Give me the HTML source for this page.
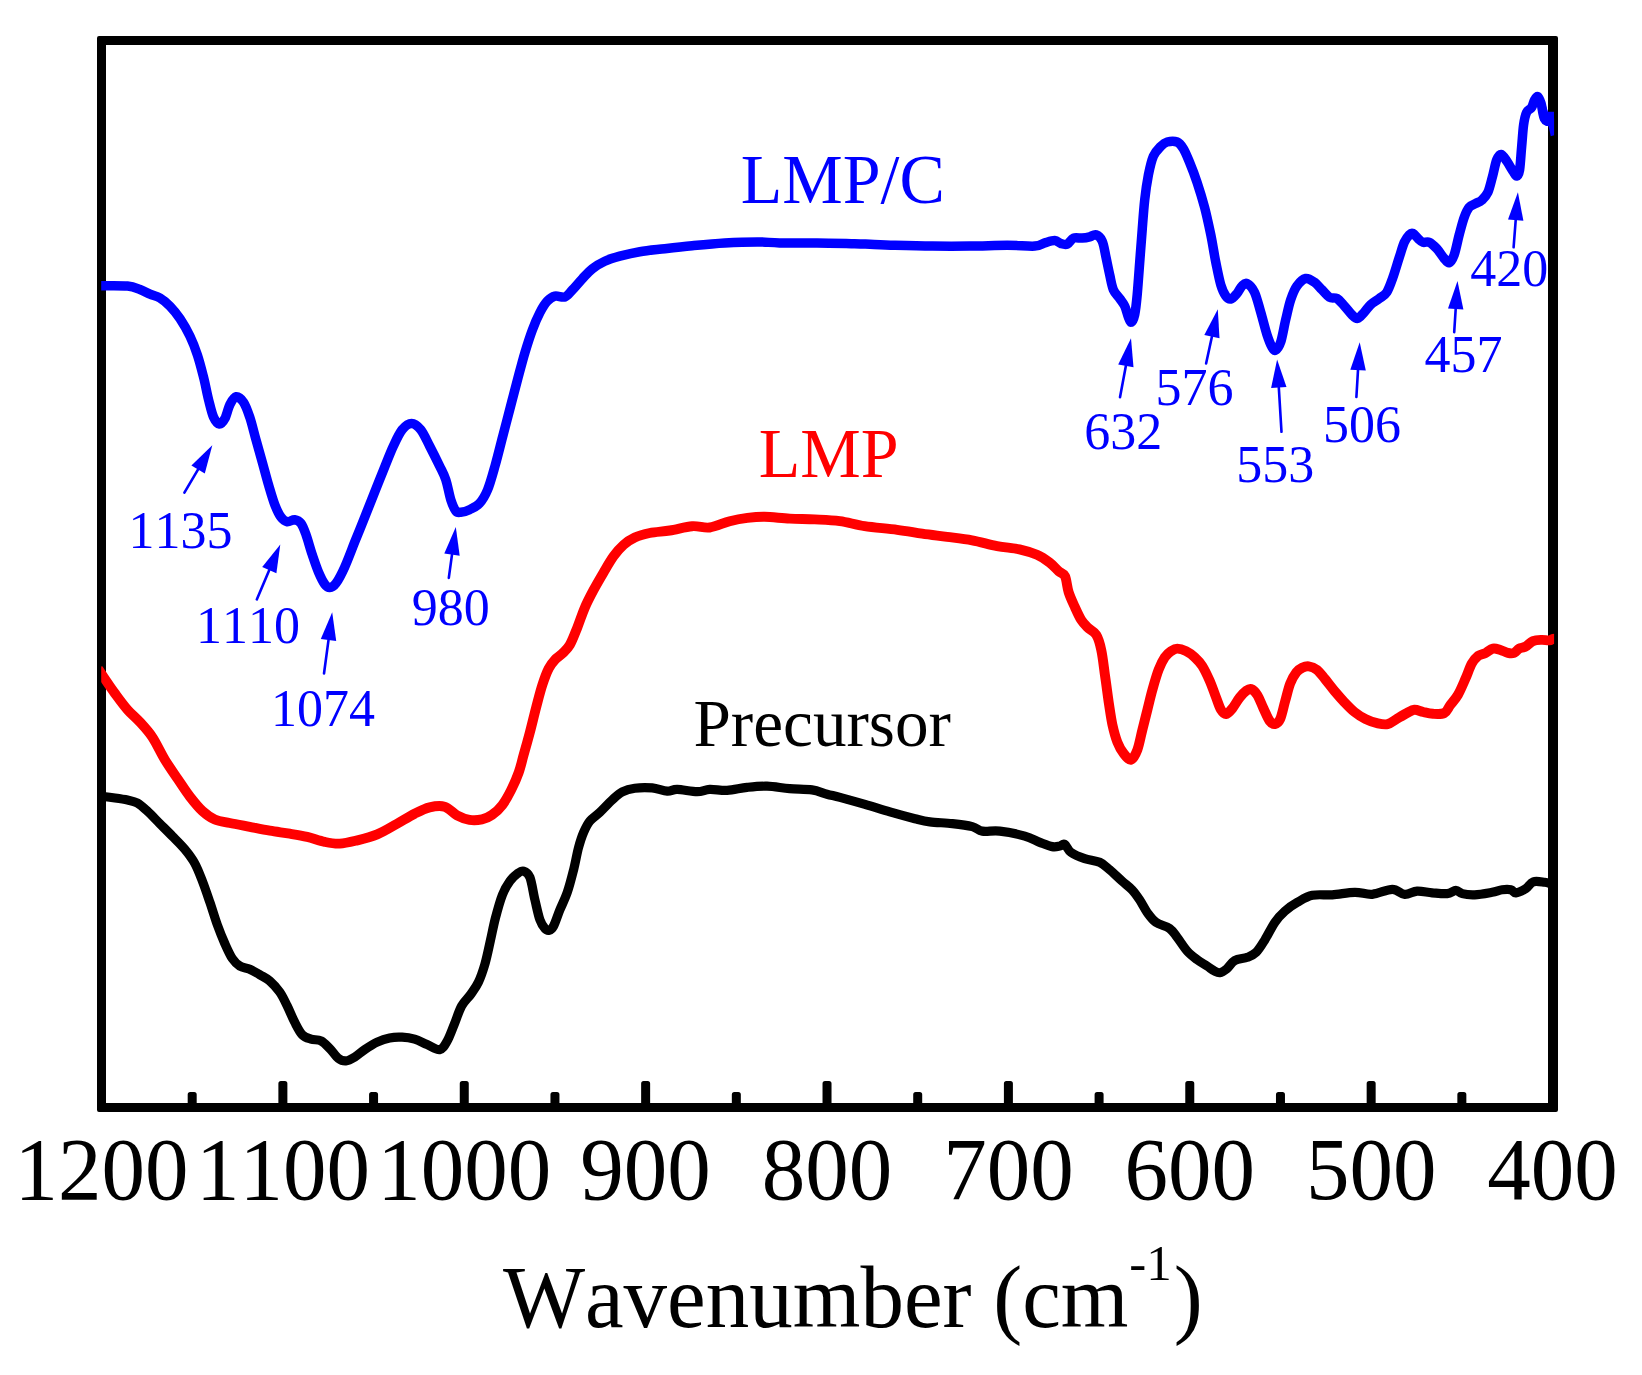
<!DOCTYPE html><html><head><meta charset="utf-8"><title>FTIR</title><style>html,body{margin:0;padding:0;background:#fff}svg{display:block}text{font-family:"Liberation Serif",serif;font-kerning:none}</style></head><body>
<svg width="1642" height="1375" viewBox="0 0 1642 1375">
<rect width="1642" height="1375" fill="#fff"/>
<text transform="translate(128.6,547.8) scale(1,1.02)" font-size="52" fill="#00f">1135</text>
<text transform="translate(196.0,643.2) scale(1,1.02)" font-size="52" fill="#00f">1110</text>
<text transform="translate(271.0,725.9) scale(1,1.02)" font-size="52" fill="#00f">1074</text>
<text transform="translate(411.8,625.3) scale(1,1.02)" font-size="52" fill="#00f">980</text>
<text transform="translate(1084.2,448.5) scale(1,1.02)" font-size="52" fill="#00f">632</text>
<text transform="translate(1155.5,404.9) scale(1,1.02)" font-size="52" fill="#00f">576</text>
<text transform="translate(1236.3,482.2) scale(1,1.02)" font-size="52" fill="#00f">553</text>
<text transform="translate(1322.9,442.3) scale(1,1.02)" font-size="52" fill="#00f">506</text>
<text transform="translate(1424.5,371.6) scale(1,1.02)" font-size="52" fill="#00f">457</text>
<text transform="translate(1470.2,285.5) scale(1,1.02)" font-size="52" fill="#00f">420</text>
<g><line x1="184.4" y1="492.7" x2="198.1" y2="469.4" stroke="#00f" stroke-width="2.6" stroke-linecap="round"/><polygon points="212.3,445.3 204.8,473.4 191.4,465.5" fill="#00f"/><line x1="256.8" y1="599.4" x2="269.3" y2="570.1" stroke="#00f" stroke-width="2.6" stroke-linecap="round"/><polygon points="280.3,544.4 276.4,573.2 262.2,567.1" fill="#00f"/><line x1="324.0" y1="673.5" x2="328.5" y2="640.1" stroke="#00f" stroke-width="2.6" stroke-linecap="round"/><polygon points="332.2,612.3 336.2,641.1 320.8,639.0" fill="#00f"/><line x1="448.8" y1="577.9" x2="452.0" y2="554.6" stroke="#00f" stroke-width="2.6" stroke-linecap="round"/><polygon points="455.8,526.9 459.7,555.7 444.3,553.6" fill="#00f"/><line x1="1120.0" y1="397.3" x2="1125.9" y2="365.8" stroke="#00f" stroke-width="2.6" stroke-linecap="round"/><polygon points="1131.0,338.3 1133.5,367.2 1118.2,364.4" fill="#00f"/><line x1="1206.1" y1="363.5" x2="1211.9" y2="336.7" stroke="#00f" stroke-width="2.6" stroke-linecap="round"/><polygon points="1217.8,309.3 1219.5,338.3 1204.3,335.0" fill="#00f"/><line x1="1281.5" y1="431.8" x2="1278.8" y2="387.4" stroke="#00f" stroke-width="2.6" stroke-linecap="round"/><polygon points="1277.1,359.5 1286.5,387.0 1271.1,387.9" fill="#00f"/><line x1="1356.4" y1="397.0" x2="1358.0" y2="370.1" stroke="#00f" stroke-width="2.6" stroke-linecap="round"/><polygon points="1359.7,342.2 1365.8,370.6 1350.3,369.7" fill="#00f"/><line x1="1454.2" y1="332.2" x2="1455.7" y2="308.9" stroke="#00f" stroke-width="2.6" stroke-linecap="round"/><polygon points="1457.5,281.0 1463.4,309.4 1448.0,308.4" fill="#00f"/><line x1="1513.6" y1="247.3" x2="1515.7" y2="220.2" stroke="#00f" stroke-width="2.6" stroke-linecap="round"/><polygon points="1517.9,192.3 1523.4,220.8 1508.0,219.6" fill="#00f"/></g>
<text transform="translate(740.8,202.8) scale(1,1.012)" font-size="68" fill="#00f">LMP/C</text>
<text transform="translate(758.8,477.0) scale(1,1.012)" font-size="68" fill="#f00">LMP</text>
<text transform="translate(693.5,745.9) scale(1,1.02)" font-size="67.2" fill="#000">Precursor</text>
<path fill="#000" fill-rule="evenodd" d="M99 36H1556Q1558 36 1558 38V1110Q1558 1112 1556 1112H99Q97 1112 97 1110V38Q97 36 99 36ZM106 45V1103H1548V45Z"/>
<path d="M187.69 1104V1094.5q0 -2.5 2.5 -2.5h4q2.5 0 2.5 2.5V1104ZM278.38 1104V1083.5q0 -2.5 2.5 -2.5h4q2.5 0 2.5 2.5V1104ZM369.07 1104V1094.5q0 -2.5 2.5 -2.5h4q2.5 0 2.5 2.5V1104ZM459.76 1104V1083.5q0 -2.5 2.5 -2.5h4q2.5 0 2.5 2.5V1104ZM550.45 1104V1094.5q0 -2.5 2.5 -2.5h4q2.5 0 2.5 2.5V1104ZM641.14 1104V1083.5q0 -2.5 2.5 -2.5h4q2.5 0 2.5 2.5V1104ZM731.83 1104V1094.5q0 -2.5 2.5 -2.5h4q2.5 0 2.5 2.5V1104ZM822.52 1104V1083.5q0 -2.5 2.5 -2.5h4q2.5 0 2.5 2.5V1104ZM913.21 1104V1094.5q0 -2.5 2.5 -2.5h4q2.5 0 2.5 2.5V1104ZM1003.90 1104V1083.5q0 -2.5 2.5 -2.5h4q2.5 0 2.5 2.5V1104ZM1094.59 1104V1094.5q0 -2.5 2.5 -2.5h4q2.5 0 2.5 2.5V1104ZM1185.28 1104V1083.5q0 -2.5 2.5 -2.5h4q2.5 0 2.5 2.5V1104ZM1275.97 1104V1094.5q0 -2.5 2.5 -2.5h4q2.5 0 2.5 2.5V1104ZM1366.66 1104V1083.5q0 -2.5 2.5 -2.5h4q2.5 0 2.5 2.5V1104ZM1457.35 1104V1094.5q0 -2.5 2.5 -2.5h4q2.5 0 2.5 2.5V1104Z" fill="#000"/>
<text transform="translate(101.5,1198.8) scale(1,1.03)" font-size="87" fill="#000" text-anchor="middle">1200</text>
<text transform="translate(282.9,1198.8) scale(1,1.03)" font-size="87" fill="#000" text-anchor="middle">1100</text>
<text transform="translate(464.3,1198.8) scale(1,1.03)" font-size="87" fill="#000" text-anchor="middle">1000</text>
<text transform="translate(645.6,1198.8) scale(1,1.03)" font-size="87" fill="#000" text-anchor="middle">900</text>
<text transform="translate(827.0,1198.8) scale(1,1.03)" font-size="87" fill="#000" text-anchor="middle">800</text>
<text transform="translate(1008.4,1198.8) scale(1,1.03)" font-size="87" fill="#000" text-anchor="middle">700</text>
<text transform="translate(1189.8,1198.8) scale(1,1.03)" font-size="87" fill="#000" text-anchor="middle">600</text>
<text transform="translate(1371.2,1198.8) scale(1,1.03)" font-size="87" fill="#000" text-anchor="middle">500</text>
<text transform="translate(1552.5,1198.8) scale(1,1.03)" font-size="87" fill="#000" text-anchor="middle">400</text>
<text transform="translate(502.9,1327) scale(1,1.012)" font-size="87" fill="#000">Wavenumber (cm<tspan font-size="51" dy="-46" dx="0.8">-1</tspan><tspan dy="46" dx="2">)</tspan></text>
<clipPath id="c"><rect x="101.2" y="0" width="1452.9" height="1375"/></clipPath>
<g clip-path="url(#c)" fill="none" stroke-width="9.5" stroke-linejoin="round" stroke-linecap="butt">
<path d="M98.0 795.8C98.5 795.9 98.4 795.8 101.2 796.2C104.0 796.6 110.6 797.4 115.0 798.0C119.4 798.6 123.8 799.2 127.5 800.0C131.2 800.8 134.1 801.1 137.4 803.0C140.7 804.9 143.7 807.8 147.4 811.2C151.2 814.7 155.7 819.5 159.9 823.7C164.1 827.9 168.2 831.9 172.4 836.2C176.6 840.5 181.2 844.8 184.9 849.4C188.7 854.0 192.0 858.3 194.9 863.6C197.8 868.9 199.9 874.7 202.4 881.1C204.9 887.5 207.4 895.0 209.9 902.3C212.4 909.6 214.8 917.9 217.3 924.8C219.8 931.7 222.3 937.9 224.8 943.5C227.3 949.1 229.8 954.8 232.3 958.5C234.8 962.2 236.9 964.2 239.8 966.0C242.7 967.8 246.5 967.8 249.8 969.2C253.1 970.7 256.5 972.7 259.8 974.7C263.1 976.7 266.5 978.1 269.8 981.0C273.1 983.9 276.9 988.1 279.8 992.2C282.7 996.4 284.7 1000.9 287.2 1005.9C289.7 1010.9 292.2 1017.4 294.7 1022.2C297.2 1027.0 299.5 1031.9 302.2 1034.7C304.9 1037.5 307.9 1038.1 311.0 1039.1C314.1 1040.1 317.9 1039.4 321.0 1040.9C324.1 1042.5 326.8 1045.5 329.7 1048.4C332.6 1051.3 335.7 1056.3 338.4 1058.4C341.1 1060.5 343.2 1061.1 345.9 1060.9C348.6 1060.7 351.6 1059.0 354.7 1057.1C357.8 1055.2 360.9 1052.1 364.7 1049.6C368.4 1047.1 373.0 1044.0 377.2 1042.1C381.4 1040.1 385.5 1038.7 389.6 1037.9C393.8 1037.1 397.9 1037.0 402.1 1037.2C406.3 1037.4 410.4 1038.0 414.6 1039.2C418.8 1040.4 422.9 1042.9 427.1 1044.6C431.3 1046.3 436.2 1050.2 439.6 1049.6C443.0 1049.0 444.8 1045.2 447.2 1041.0C449.6 1036.8 451.8 1030.3 454.2 1024.5C456.6 1018.7 458.8 1011.1 461.6 1006.0C464.4 1000.9 468.2 998.0 471.0 994.0C473.8 990.0 476.2 986.9 478.5 982.0C480.8 977.1 482.8 971.3 484.8 964.5C486.8 957.7 488.6 948.7 490.3 941.0C492.1 933.3 493.3 926.2 495.3 918.5C497.3 910.8 500.0 901.0 502.4 894.8C504.8 888.6 507.4 884.6 509.9 881.1C512.4 877.6 515.1 875.3 517.4 873.6C519.7 871.9 521.5 870.5 523.6 871.1C525.7 871.7 528.0 872.5 529.9 877.3C531.8 882.1 533.2 892.7 534.9 899.8C536.6 906.9 538.2 915.0 539.9 919.8C541.6 924.6 543.4 926.8 544.9 928.5C546.4 930.2 547.6 930.7 549.1 930.3C550.6 929.9 551.8 929.4 553.6 926.0C555.4 922.6 557.6 915.4 559.9 909.8C562.2 904.2 565.0 899.0 567.3 892.3C569.6 885.6 571.7 877.3 573.6 869.8C575.5 862.3 576.9 853.6 578.6 847.4C580.3 841.2 581.7 836.8 583.6 832.4C585.5 828.0 587.1 824.4 589.8 821.1C592.5 817.8 596.0 815.9 599.8 812.4C603.5 808.9 608.5 803.3 612.3 799.9C616.0 796.5 618.5 793.8 622.3 791.9C626.0 790.0 629.8 788.9 634.8 788.2C639.8 787.5 646.8 787.4 652.2 787.9C657.6 788.4 663.0 791.0 667.2 791.2C671.4 791.5 672.2 789.3 677.2 789.4C682.2 789.5 691.8 791.7 697.2 791.7C702.6 791.7 704.7 789.6 709.7 789.4C714.7 789.2 720.9 790.7 727.1 790.4C733.3 790.1 740.4 788.1 747.1 787.4C753.8 786.7 760.0 786.0 767.1 786.2C774.2 786.4 782.1 788.1 789.6 788.7C797.1 789.3 805.8 789.0 812.0 789.9C818.2 790.8 822.3 793.0 827.0 794.2C831.7 795.5 833.7 795.7 840.0 797.4C846.3 799.1 856.7 802.0 865.0 804.4C873.3 806.8 881.6 809.5 889.9 811.9C898.2 814.3 908.2 817.0 914.9 818.7C921.6 820.4 923.6 821.1 929.9 821.9C936.1 822.7 945.3 822.8 952.4 823.6C959.5 824.4 967.3 825.4 972.3 826.6C977.3 827.9 977.7 830.4 982.3 831.1C986.9 831.9 992.7 830.3 999.8 831.1C1006.9 831.9 1018.1 834.2 1024.8 836.1C1031.5 838.0 1035.2 840.6 1039.8 842.4C1044.4 844.1 1048.9 846.0 1052.2 846.6C1055.5 847.2 1057.6 846.5 1059.7 846.1C1061.8 845.7 1062.8 843.4 1064.7 844.4C1066.6 845.4 1067.7 850.0 1071.0 852.4C1074.3 854.8 1079.9 857.0 1084.7 858.6C1089.5 860.2 1095.5 860.4 1099.7 862.3C1103.9 864.2 1106.0 866.7 1109.7 869.8C1113.4 872.9 1118.4 877.8 1122.1 881.1C1125.8 884.4 1129.2 886.7 1132.1 889.8C1135.0 892.9 1137.1 896.0 1139.6 899.8C1142.1 903.5 1144.4 908.5 1147.1 912.3C1149.8 916.0 1152.2 919.6 1155.9 922.3C1159.7 925.0 1166.1 926.0 1169.6 928.5C1173.1 931.0 1174.2 933.5 1177.1 937.3C1180.0 941.0 1183.8 947.3 1187.1 951.0C1190.4 954.7 1193.8 957.2 1197.1 959.7C1200.4 962.2 1204.1 964.1 1207.0 966.0C1209.9 967.9 1212.4 969.9 1214.5 971.0C1216.6 972.1 1217.8 973.0 1219.8 972.7C1221.8 972.4 1224.1 971.0 1226.6 969.0C1229.1 967.0 1231.3 962.5 1234.8 960.5C1238.3 958.5 1243.8 958.7 1247.4 957.3C1251.0 955.9 1253.3 955.2 1256.2 952.3C1259.1 949.4 1261.8 944.8 1264.9 939.8C1268.0 934.8 1271.6 927.1 1274.9 922.3C1278.2 917.5 1281.2 914.4 1284.9 911.1C1288.7 907.8 1292.8 904.9 1297.4 902.3C1302.0 899.7 1306.6 896.5 1312.4 895.3C1318.2 894.0 1325.2 895.3 1332.3 894.8C1339.4 894.3 1348.1 892.4 1354.8 892.3C1361.5 892.2 1366.0 894.8 1372.3 894.3C1378.5 893.8 1386.9 889.3 1392.3 889.3C1397.7 889.3 1400.5 894.0 1404.7 894.3C1408.9 894.6 1412.6 891.4 1417.2 891.1C1421.8 890.9 1427.2 892.4 1432.2 892.8C1437.2 893.2 1443.2 894.0 1447.2 893.6C1451.2 893.2 1453.4 890.3 1455.9 890.3C1458.4 890.3 1459.1 892.9 1462.2 893.6C1465.3 894.4 1469.7 895.0 1474.7 894.8C1479.7 894.6 1487.5 893.1 1492.1 892.3C1496.7 891.5 1499.0 890.2 1502.1 889.8C1505.2 889.4 1508.6 889.3 1510.9 889.8C1513.2 890.3 1513.4 893.0 1515.9 892.8C1518.4 892.6 1522.9 890.4 1525.8 888.6C1528.7 886.8 1530.2 882.8 1533.3 881.8C1536.4 880.8 1541.3 881.9 1544.6 882.3C1547.9 882.7 1551.1 884.0 1553.2 884.3C1555.3 884.6 1556.4 884.3 1557.0 884.3" stroke="#000" stroke-width="9.2"/>
<path d="M98.0 668.9C98.5 669.6 98.4 669.4 101.2 673.5C104.0 677.6 110.6 687.5 115.0 693.5C119.4 699.5 123.3 704.9 127.5 709.7C131.7 714.5 135.8 717.6 140.0 722.2C144.2 726.8 148.2 731.0 152.4 737.2C156.6 743.5 160.7 752.8 164.9 759.7C169.1 766.6 173.2 772.4 177.4 778.5C181.6 784.6 185.7 791.2 189.9 796.6C194.1 802.0 198.2 807.2 202.4 811.0C206.6 814.8 210.2 817.5 214.8 819.5C219.4 821.5 224.0 821.8 229.8 823.0C235.6 824.2 243.1 825.6 249.8 826.9C256.5 828.2 263.1 829.6 269.8 830.7C276.5 831.8 283.6 832.7 289.8 833.7C296.0 834.7 301.4 835.5 307.2 836.9C313.0 838.3 319.3 840.8 324.7 841.9C330.1 843.0 334.3 843.9 339.7 843.6C345.1 843.4 350.9 841.9 357.2 840.4C363.4 838.9 370.5 837.2 377.2 834.4C383.9 831.6 390.9 827.2 397.1 823.7C403.3 820.2 409.2 816.4 414.6 813.7C420.0 811.0 424.6 808.6 429.6 807.4C434.6 806.2 440.0 805.4 444.6 806.7C449.2 808.0 452.9 813.2 457.0 815.4C461.1 817.6 465.3 819.2 469.5 819.9C473.7 820.6 478.2 820.2 482.0 819.4C485.8 818.6 488.6 817.3 492.0 814.9C495.4 812.5 499.2 809.1 502.4 804.9C505.6 800.7 508.5 795.3 511.2 789.9C513.9 784.5 516.6 778.4 518.7 772.5C520.8 766.6 521.8 761.4 523.7 754.7C525.6 748.0 527.8 740.1 529.9 732.2C532.0 724.3 534.1 715.1 536.2 707.2C538.3 699.3 540.3 691.2 542.4 684.8C544.5 678.3 546.6 672.7 548.7 668.5C550.8 664.3 552.6 662.3 554.9 659.8C557.2 657.3 559.9 656.1 562.4 653.6C564.9 651.1 567.4 649.2 569.9 644.8C572.4 640.4 574.9 633.5 577.4 627.3C579.9 621.1 582.2 613.6 584.9 607.4C587.6 601.2 590.5 595.7 593.6 589.9C596.7 584.1 600.3 578.0 603.6 572.4C606.9 566.8 610.3 560.8 613.6 556.2C616.9 551.6 620.1 548.0 623.6 544.9C627.1 541.8 630.4 539.5 634.8 537.5C639.2 535.5 644.0 534.2 649.8 533.0C655.6 531.8 662.7 531.6 669.8 530.5C676.9 529.4 685.6 526.7 692.2 526.2C698.9 525.7 703.5 528.3 709.7 527.5C716.0 526.7 723.4 522.8 729.7 521.2C736.0 519.6 741.6 518.6 747.4 517.9C753.2 517.2 757.5 516.7 764.6 516.8C771.7 516.9 781.4 518.2 789.8 518.6C798.2 519.0 806.5 519.0 814.8 519.4C823.1 519.8 831.5 520.0 839.8 521.1C848.1 522.2 855.1 524.7 864.7 526.1C874.3 527.5 887.6 528.5 897.2 529.8C906.8 531.0 913.9 532.4 922.2 533.6C930.5 534.8 938.8 535.7 947.1 536.8C955.4 537.9 963.8 538.8 972.1 540.3C980.4 541.8 989.2 544.6 997.1 546.1C1005.0 547.6 1012.9 547.8 1019.5 549.3C1026.2 550.8 1032.0 552.6 1037.0 554.8C1042.0 557.0 1045.9 559.8 1049.5 562.5C1053.1 565.2 1056.1 568.9 1058.7 571.2C1061.3 573.5 1063.3 572.7 1065.0 576.2C1066.7 579.7 1067.0 587.2 1068.7 592.4C1070.4 597.6 1072.9 602.8 1075.0 607.4C1077.1 612.0 1079.1 616.6 1081.2 619.9C1083.3 623.2 1084.9 624.8 1087.4 627.3C1089.9 629.8 1093.9 631.0 1096.2 634.8C1098.5 638.5 1099.8 643.1 1101.2 649.8C1102.7 656.5 1103.7 666.1 1104.9 674.8C1106.2 683.5 1107.5 693.9 1108.7 702.2C1110.0 710.5 1111.0 718.0 1112.4 724.7C1113.9 731.4 1115.5 737.4 1117.4 742.2C1119.3 747.0 1121.3 750.5 1123.6 753.4C1125.9 756.3 1128.8 760.3 1131.1 759.7C1133.4 759.1 1135.5 754.7 1137.4 749.7C1139.3 744.7 1140.7 736.4 1142.4 729.7C1144.1 723.0 1145.7 716.4 1147.4 709.7C1149.1 703.1 1150.5 696.4 1152.4 689.8C1154.3 683.1 1156.5 675.2 1158.6 669.8C1160.7 664.4 1162.7 660.4 1164.8 657.3C1166.9 654.2 1169.0 652.5 1171.1 651.1C1173.2 649.7 1174.8 648.6 1177.3 648.6C1179.8 648.6 1183.2 649.7 1186.1 651.1C1189.0 652.5 1192.1 654.8 1194.8 657.3C1197.5 659.8 1199.8 662.0 1202.3 666.0C1204.8 670.0 1207.5 675.8 1209.8 681.0C1212.1 686.2 1214.1 692.5 1216.0 697.3C1217.9 702.1 1219.3 706.9 1221.0 709.7C1222.7 712.5 1224.1 714.2 1226.0 714.0C1227.9 713.8 1230.0 711.3 1232.3 708.5C1234.6 705.7 1237.5 700.2 1239.8 697.3C1242.1 694.4 1244.1 692.4 1246.0 691.0C1247.9 689.6 1249.1 688.4 1251.0 689.0C1252.9 689.6 1255.1 691.5 1257.2 694.8C1259.3 698.0 1261.4 704.1 1263.5 708.5C1265.6 712.9 1267.8 718.4 1269.7 721.0C1271.6 723.6 1273.2 724.3 1275.0 724.0C1276.8 723.7 1278.5 722.8 1280.2 719.0C1281.9 715.2 1283.5 706.9 1285.2 701.0C1286.9 695.1 1288.3 688.3 1290.2 683.5C1292.1 678.7 1294.4 674.9 1296.4 672.3C1298.4 669.7 1300.2 668.8 1302.2 667.8C1304.2 666.8 1306.2 666.0 1308.7 666.3C1311.2 666.6 1314.3 667.7 1317.0 669.8C1319.7 671.9 1322.1 675.5 1325.0 679.0C1327.9 682.5 1331.2 687.1 1334.5 691.0C1337.8 694.9 1341.2 698.8 1344.5 702.3C1347.8 705.8 1351.0 709.2 1354.5 712.0C1358.0 714.8 1362.0 717.3 1365.7 719.2C1369.5 721.1 1373.3 722.4 1377.0 723.2C1380.7 724.0 1384.3 724.9 1387.6 724.2C1390.9 723.5 1393.8 720.7 1397.0 718.8C1400.2 716.9 1404.1 714.5 1407.0 713.0C1409.9 711.5 1411.7 710.0 1414.4 709.8C1417.1 709.6 1420.1 711.3 1423.2 712.0C1426.3 712.7 1429.5 713.6 1433.0 713.8C1436.5 714.0 1441.4 714.5 1444.3 713.0C1447.2 711.5 1448.0 708.0 1450.3 705.0C1452.6 702.0 1455.5 699.2 1458.0 694.8C1460.5 690.4 1463.2 683.8 1465.5 678.6C1467.8 673.4 1469.6 667.4 1471.7 663.6C1473.8 659.9 1475.6 657.9 1477.9 656.1C1480.2 654.4 1482.9 654.4 1485.4 653.1C1487.9 651.9 1490.4 649.1 1492.9 648.6C1495.4 648.1 1497.9 649.2 1500.4 649.9C1502.9 650.6 1505.6 652.4 1507.9 652.9C1510.2 653.4 1512.2 653.6 1514.1 652.9C1516.0 652.2 1517.2 649.6 1519.1 648.6C1521.0 647.6 1523.1 647.9 1525.4 646.6C1527.7 645.4 1530.2 642.2 1532.9 641.1C1535.6 640.0 1538.9 640.0 1541.6 639.9C1544.3 639.8 1547.2 640.6 1549.1 640.4C1551.0 640.2 1551.9 639.0 1553.2 638.7C1554.5 638.4 1556.4 638.7 1557.0 638.7" stroke="#f00" stroke-width="9.9"/>
<path d="M98.0 285.7C98.5 285.7 96.3 285.6 101.2 285.7C106.1 285.8 121.0 285.4 127.5 286.0C134.0 286.6 136.2 288.1 140.0 289.5C143.8 290.9 146.7 292.8 150.0 294.2C153.3 295.6 156.7 296.0 160.0 298.0C163.3 300.0 166.7 302.8 170.0 306.2C173.3 309.6 176.7 313.7 180.0 318.7C183.3 323.7 187.1 330.2 190.0 336.2C192.9 342.2 195.1 348.0 197.4 354.9C199.7 361.8 201.7 369.9 203.6 377.4C205.5 384.9 206.9 393.1 208.6 399.8C210.3 406.5 211.8 413.3 213.6 417.3C215.4 421.3 217.5 423.8 219.4 424.0C221.3 424.2 223.2 421.8 224.9 418.6C226.6 415.4 228.0 408.4 229.8 404.8C231.7 401.2 233.7 397.2 236.0 396.8C238.3 396.4 241.3 398.9 243.6 402.3C245.9 405.7 247.7 411.1 249.8 417.3C251.9 423.6 253.9 432.3 256.0 439.8C258.1 447.3 260.2 454.7 262.3 462.2C264.4 469.7 266.4 477.6 268.5 484.7C270.6 491.8 272.7 499.3 274.8 504.7C276.9 510.1 278.9 514.4 281.0 517.2C283.1 520.0 284.9 521.3 287.2 521.7C289.5 522.1 292.4 519.4 294.7 519.7C297.0 520.0 299.1 520.9 301.0 523.4C302.9 525.9 304.1 529.5 306.0 534.7C307.9 539.9 310.1 548.4 312.2 554.6C314.3 560.8 316.4 567.2 318.5 572.1C320.6 577.0 322.8 581.5 324.7 584.1C326.6 586.7 327.8 587.7 329.7 587.6C331.6 587.5 333.5 586.7 336.0 583.3C338.5 579.9 341.6 574.0 344.7 567.1C347.8 560.2 351.4 550.4 354.7 542.1C358.0 533.8 361.4 525.5 364.7 517.2C368.0 508.9 371.3 500.5 374.6 492.2C377.9 483.9 381.5 474.9 384.6 467.2C387.7 459.5 390.5 452.2 393.4 446.0C396.3 439.8 399.1 433.6 402.1 429.8C405.1 426.1 408.5 423.5 411.6 423.5C414.7 423.5 417.8 426.1 420.8 429.8C423.8 433.6 426.5 440.0 429.6 446.0C432.7 452.0 436.9 460.4 439.6 466.0C442.3 471.6 443.9 474.1 445.8 479.7C447.7 485.3 449.1 494.5 450.8 499.7C452.5 504.9 454.1 508.8 455.8 510.9C457.5 513.0 458.5 512.4 460.8 512.2C463.1 512.0 466.4 511.2 469.5 509.7C472.6 508.2 476.5 506.7 479.5 503.4C482.5 500.1 484.9 496.2 487.5 490.0C490.1 483.8 492.5 474.8 495.0 466.0C497.5 457.2 500.0 446.8 502.5 437.2C505.0 427.6 507.5 418.1 510.0 408.5C512.5 398.9 515.0 389.2 517.5 379.8C520.0 370.4 522.5 360.6 525.0 352.3C527.5 344.0 529.9 336.5 532.4 329.8C534.9 323.1 537.5 317.2 540.0 312.4C542.5 307.6 544.9 303.8 547.4 301.1C549.9 298.4 552.0 296.8 554.9 296.1C557.8 295.4 562.0 297.9 564.9 296.9C567.8 295.9 569.5 292.9 572.4 289.9C575.3 286.9 579.1 282.2 582.4 278.7C585.7 275.2 588.7 271.6 592.4 268.7C596.1 265.8 600.2 263.3 604.8 261.2C609.4 259.1 614.0 257.8 619.8 256.2C625.6 254.6 632.3 252.9 639.8 251.7C647.3 250.4 656.1 249.7 664.8 248.7C673.5 247.7 682.2 246.7 692.2 245.7C702.2 244.7 713.9 243.5 724.7 242.9C735.5 242.3 748.1 241.9 757.2 241.9C766.4 241.9 769.6 242.7 779.6 242.9C789.6 243.1 804.5 242.8 817.0 242.9C829.5 243.0 845.7 243.5 854.5 243.7C863.3 243.9 863.2 244.0 870.0 244.3C876.8 244.6 884.6 245.0 895.0 245.3C905.4 245.6 919.9 246.0 932.4 246.1C944.9 246.2 957.4 246.2 969.9 246.1C982.4 246.0 996.5 245.3 1007.3 245.3C1018.1 245.3 1028.5 246.5 1034.8 246.1C1041.0 245.7 1041.5 243.7 1044.8 242.8C1048.1 241.9 1052.1 240.5 1054.8 240.6C1057.5 240.7 1058.9 243.0 1061.0 243.6C1063.1 244.2 1065.2 245.0 1067.3 244.1C1069.4 243.2 1071.0 239.1 1073.5 238.1C1076.0 237.1 1079.5 238.3 1082.2 238.1C1084.9 237.9 1087.4 237.4 1089.7 236.8C1092.0 236.2 1093.9 234.1 1096.0 234.8C1098.1 235.5 1100.5 237.3 1102.2 241.1C1103.9 244.8 1104.8 251.7 1106.0 257.3C1107.2 262.9 1108.5 269.4 1109.7 274.8C1110.9 280.2 1111.7 285.9 1113.4 289.8C1115.1 293.8 1117.8 295.8 1119.7 298.5C1121.6 301.2 1123.2 302.9 1124.7 306.0C1126.2 309.1 1127.3 314.5 1128.4 317.2C1129.5 319.9 1130.4 322.6 1131.4 322.2C1132.5 321.8 1133.7 319.3 1134.7 314.7C1135.7 310.1 1136.4 303.5 1137.2 294.8C1138.0 286.1 1138.9 273.1 1139.7 262.3C1140.5 251.5 1141.4 240.2 1142.2 229.8C1143.0 219.4 1143.7 209.1 1144.7 199.9C1145.7 190.8 1147.0 182.2 1148.4 174.9C1149.9 167.6 1151.3 161.0 1153.4 156.2C1155.5 151.4 1158.6 148.6 1160.9 146.2C1163.2 143.8 1164.4 142.7 1167.1 142.0C1169.8 141.3 1174.4 140.9 1177.1 142.0C1179.8 143.1 1181.3 145.3 1183.4 148.7C1185.5 152.1 1187.3 156.8 1189.6 162.4C1191.9 168.0 1194.6 174.9 1197.1 182.4C1199.6 189.9 1202.3 198.7 1204.6 207.4C1206.9 216.1 1208.9 225.7 1210.8 234.8C1212.7 244.0 1214.1 254.0 1215.8 262.3C1217.5 270.6 1219.1 279.2 1220.8 284.8C1222.5 290.4 1224.1 293.6 1225.8 296.0C1227.5 298.4 1228.9 299.4 1230.8 299.0C1232.7 298.6 1235.1 295.7 1237.0 293.5C1238.9 291.3 1240.3 287.7 1242.0 286.0C1243.7 284.3 1244.9 282.5 1247.0 283.5C1249.1 284.5 1252.2 287.4 1254.5 292.2C1256.8 297.0 1258.6 305.1 1260.7 312.2C1262.8 319.3 1265.1 328.9 1267.0 334.7C1268.9 340.5 1270.5 344.5 1272.0 347.1C1273.5 349.7 1274.2 350.9 1275.7 350.1C1277.2 349.3 1279.0 347.2 1280.7 342.1C1282.4 337.0 1284.0 326.8 1285.7 319.7C1287.4 312.6 1288.8 305.3 1290.7 299.7C1292.6 294.1 1294.4 289.5 1296.9 286.0C1299.4 282.5 1302.8 279.1 1305.7 278.5C1308.6 277.9 1311.7 280.3 1314.4 282.2C1317.1 284.1 1319.4 287.2 1321.9 289.7C1324.4 292.2 1326.9 295.7 1329.4 297.2C1331.9 298.7 1334.4 297.1 1336.9 298.5C1339.4 299.9 1341.9 303.2 1344.4 305.9C1346.9 308.6 1349.7 312.6 1351.9 314.7C1354.1 316.8 1355.5 318.8 1357.6 318.4C1359.7 318.0 1362.1 314.5 1364.3 312.2C1366.5 309.9 1368.1 307.0 1370.6 304.7C1373.1 302.4 1376.6 300.6 1379.3 298.5C1382.0 296.4 1384.5 295.8 1386.8 292.2C1389.1 288.6 1390.9 283.0 1393.0 277.2C1395.1 271.4 1397.4 263.1 1399.3 257.3C1401.2 251.5 1402.6 246.1 1404.3 242.3C1406.0 238.6 1407.8 236.3 1409.3 234.8C1410.8 233.3 1411.5 232.9 1413.0 233.5C1414.5 234.1 1416.3 237.0 1418.0 238.5C1419.7 240.0 1421.1 241.7 1423.0 242.3C1424.9 242.9 1427.0 241.3 1429.3 242.3C1431.6 243.3 1434.2 245.8 1436.7 248.5C1439.2 251.2 1442.1 256.1 1444.2 258.5C1446.3 260.9 1447.5 263.3 1449.2 262.7C1450.9 262.1 1452.5 259.4 1454.2 254.8C1455.9 250.2 1457.5 241.1 1459.2 234.8C1460.9 228.6 1462.5 221.9 1464.2 217.3C1465.9 212.7 1467.3 209.6 1469.2 207.3C1471.1 205.0 1473.3 204.8 1475.4 203.6C1477.5 202.4 1479.6 202.2 1481.7 200.3C1483.8 198.4 1486.0 196.5 1487.9 192.3C1489.8 188.1 1491.4 180.3 1492.9 174.9C1494.4 169.5 1495.3 163.3 1496.7 159.9C1498.1 156.5 1499.5 154.2 1501.2 154.4C1502.9 154.6 1504.8 158.3 1506.7 161.1C1508.7 163.9 1511.2 168.6 1512.9 171.1C1514.6 173.6 1515.5 176.3 1516.6 176.1C1517.7 175.9 1518.8 174.7 1519.6 169.9C1520.4 165.1 1520.9 154.9 1521.6 147.4C1522.3 139.9 1522.8 130.7 1523.6 124.9C1524.4 119.1 1525.3 115.3 1526.6 112.4C1527.9 109.5 1530.3 109.5 1531.6 107.4C1532.9 105.3 1533.5 101.8 1534.6 100.0C1535.6 98.2 1536.8 96.1 1537.9 96.7C1539.0 97.3 1540.2 100.7 1541.1 103.5C1541.9 106.3 1542.5 111.0 1543.0 113.5C1543.5 116.0 1543.8 117.4 1544.4 118.6C1545.0 119.8 1545.5 120.4 1546.5 120.8C1547.5 121.2 1549.2 120.3 1550.3 121.0C1551.4 121.7 1552.2 123.2 1552.9 124.7C1553.6 126.2 1553.9 128.3 1554.3 130.0C1554.7 131.7 1555.1 134.2 1555.3 135.0" stroke="#00f"/>
<path d="M1546 106L1547.9 111.8H1554.1V126H1545.5Z" fill="#00f" stroke="none"/>
</g>
</svg></body></html>
